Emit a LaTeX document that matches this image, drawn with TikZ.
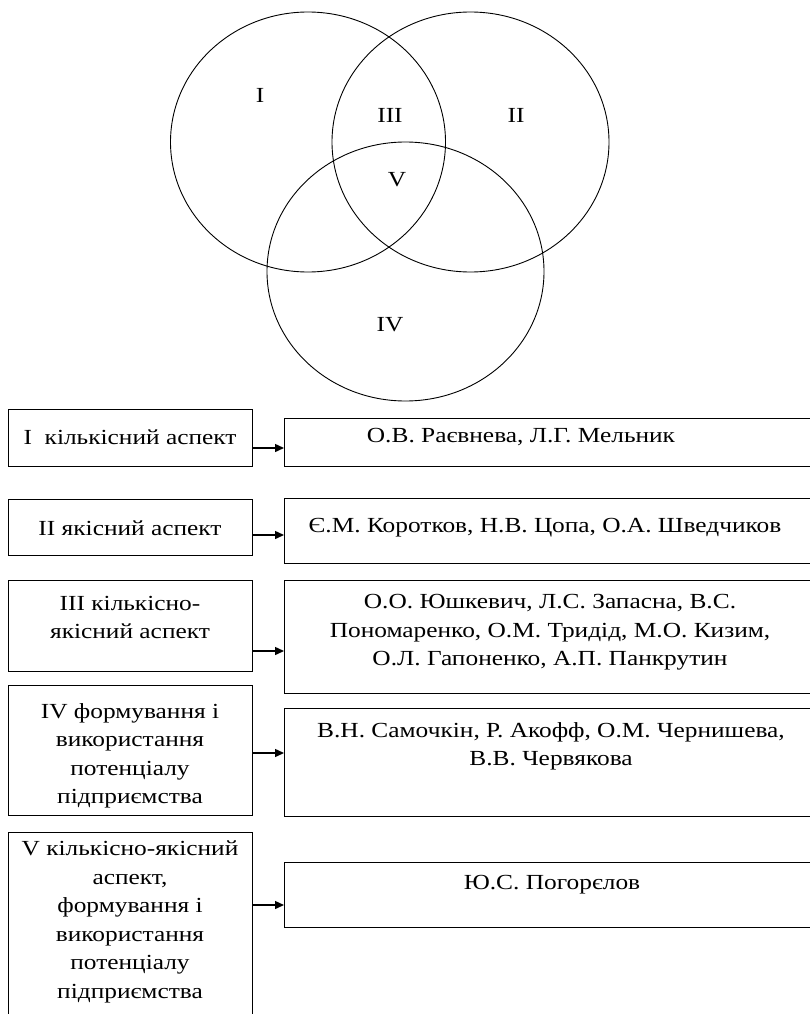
\documentclass[tikz,border=0pt]{standalone}
\usepackage{fontspec}
\setmainfont{Liberation Serif}[FakeStretch=1.18]
\usetikzlibrary{positioning,arrows.meta}
\tikzset{
    box/.style={draw, line width=1.1pt, anchor=north west, inner sep=0pt},
    lbl/.style={font=\fontsize{21.5}{28.5}\selectfont, align=center, inner sep=0pt},
    arr/.style={line width=1.4pt, -{Triangle[length=9pt,width=8pt]}},
}
\begin{document}
\begin{tikzpicture}[x=1pt,y=-1pt]
        \useasboundingbox (0,0) rectangle (809,1014);
        %% Venn
        \draw[line width=0.9pt] (308,142) ellipse [x radius=137.5, y radius=130];
        \draw[line width=0.9pt] (470.5,142) ellipse [x radius=138.5, y radius=130];
        \draw[line width=0.9pt] (405.5,271.5) ellipse [x radius=138.5, y radius=129.5];
        \node[lbl] (vI) at (260,95) {I};
        \node[lbl] (vIII) at (390,115) {III};
        \node[lbl] (vII) at (516,115) {II};
        \node[lbl] (vV) at (397,180) {V};
        \node[lbl] (vIV) at (390,325) {IV};
        %% Left boxes
        \node[box, minimum width=244, minimum height=57] (l1) at (8,409) {};
            \node[lbl] (tl1) at (130,437) {I~ кількісний аспект};
        \node[box, minimum width=244, minimum height=56] (l2) at (8,499) {};
            \node[lbl] (tl2) at (130,528) {II якісний аспект};
        \node[box, minimum width=244, minimum height=91] (l3) at (8,580) {};
            \node[lbl] (tl3) at (130,617.5) {III кількісно-\\якісний аспект};
        \node[box, minimum width=244, minimum height=130] (l4) at (8,685) {};
            \node[lbl] (tl4) at (130,756) {IV формування і\\використання\\потенціалу\\підприємства};
        \node[box, minimum width=244, minimum height=200] (l5) at (8,832) {};
            \node[lbl] (tl5) at (130,922) {V кількісно-якісний\\аспект,\\формування і\\використання\\потенціалу\\підприємства};
        %% Right boxes
        \node[box, minimum width=531, minimum height=48] (r1) at (284,418) {};
            \node[lbl] (tr1) at (521,437) {О.В. Раєвнева, Л.Г. Мельник};
        \node[box, minimum width=531, minimum height=65] (r2) at (284,498) {};
            \node[lbl] (tr2) at (545,528) {Є.М. Коротков, Н.В. Цопа, О.А. Шведчиков};
        \node[box, minimum width=531, minimum height=113] (r3) at (284,580) {};
            \node[lbl] (tr3) at (550,632.5) {О.О. Юшкевич, Л.С. Запасна, В.С.\\Пономаренко, О.М. Тридід, М.О. Кизим,\\О.Л. Гапоненко, А.П. Панкрутин};
        \node[box, minimum width=531, minimum height=108] (r4) at (284,708) {};
            \node[lbl] (tr4) at (551,746.5) {В.Н. Самочкін, Р. Акофф, О.М. Чернишева,\\В.В. Червякова};
        \node[box, minimum width=531, minimum height=65] (r5) at (284,862) {};
            \node[lbl] (tr5) at (552,885) {Ю.С. Погорєлов};
        %% Arrows
        \draw[arr] (l1.east |- 0,448) -- (r1.west |- 0,448);
        \draw[arr] (l2.east |- 0,535) -- (r2.west |- 0,535);
        \draw[arr] (l3.east |- 0,651) -- (r3.west |- 0,651);
        \draw[arr] (l4.east |- 0,753) -- (r4.west |- 0,753);
        \draw[arr] (l5.east |- 0,905) -- (r5.west |- 0,905);
\end{tikzpicture}
\end{document}
